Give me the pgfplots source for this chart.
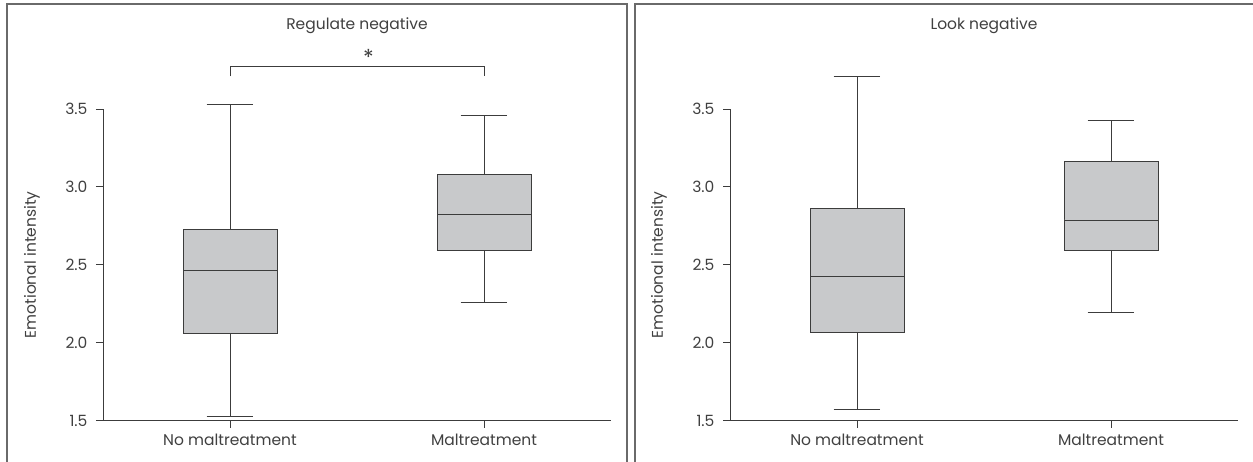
\documentclass[border=0pt]{standalone}
\usepackage{fontspec}
\setmainfont{Poppins}
\usepackage{pgfplots}
\pgfplotsset{compat=1.18}
\usepgfplotslibrary{statistics}

\definecolor{boxfill}{HTML}{C8C9CB}
\definecolor{ink}{HTML}{3C3C3C}
\definecolor{txt}{HTML}{404040}
\definecolor{frame}{HTML}{6A6A6A}

\newcommand{\lab}{\fontsize{15.5}{18}\selectfont\color{txt}}

\pgfplotsset{
  panel/.style={
    width=508pt, height=311.7pt, scale only axis,
    xmin=0.5, xmax=2.5, ymin=1.5, ymax=3.5,
    clip=false,
    axis x line*=bottom, axis y line*=left,
    axis line style={ink, line width=0.9pt},
    tick align=outside, major tick length=7pt,
    tick style={ink, line width=0.9pt},
    xtick={1,2}, xticklabels={No maltreatment, Maltreatment},
    ytick={1.5,2,2.5,3,3.5}, yticklabels={1.5,2.0,2.5,3.0,3.5},
    tick label style={font=\lab},
    yticklabel style={xshift=-5pt},
    xticklabel style={yshift=-3pt},
    ylabel={Emotional intensity},
    ylabel style={font=\lab, at={(axis description cs:0,0.5)}, anchor=center, yshift=71pt},
    title style={font=\lab, at={(axis description cs:0.5,1)}, anchor=center, yshift=77pt},
    boxplot/draw direction=y,
    boxplot/box extend=0.37,
    boxplot/whisker extend=0.184,
  },
  bx/.style={draw=ink, line width=0.9pt, fill=boxfill, solid, mark=none},
}

\begin{document}
\begin{tikzpicture}[x=1pt, y=1pt]
\useasboundingbox (0,0) rectangle (1253,461);
\clip (0,0) rectangle (1253,461);

% panel frames
\draw[frame, line width=1.2pt] (7,-10) -- (7,457) -- (627,457) -- (627,-10);
\draw[frame, line width=1.2pt] (635,-10) -- (635,457) -- (1265,457);

\begin{axis}[panel, at={(103pt,40.3pt)}, anchor=south west, title={Regulate negative}]
  \addplot[bx, boxplot prepared={draw position=1,
    lower whisker=1.527, lower quartile=2.062, median=2.462,
    upper quartile=2.727, upper whisker=3.530}] coordinates {};
  \addplot[bx, boxplot prepared={draw position=2,
    lower whisker=2.259, lower quartile=2.593, median=2.826,
    upper quartile=3.078, upper whisker=3.459}] coordinates {};
  % significance bracket
  \draw[ink, line width=0.9pt] (axis cs:1,3.709) -- (axis cs:1,3.773)
    -- (axis cs:2,3.773) -- (axis cs:2,3.709);
  \node[font=\fontsize{22}{24}\selectfont\color{txt}] at (axis cs:1.545,3.832) {*};
\end{axis}

\begin{axis}[panel, at={(730pt,40.3pt)}, anchor=south west, title={Look negative}]
  \addplot[bx, boxplot prepared={draw position=1,
    lower whisker=1.572, lower quartile=2.066, median=2.428,
    upper quartile=2.862, upper whisker=3.709}] coordinates {};
  \addplot[bx, boxplot prepared={draw position=2,
    lower whisker=2.195, lower quartile=2.593, median=2.788,
    upper quartile=3.166, upper whisker=3.429}] coordinates {};
\end{axis}
\end{tikzpicture}
\end{document}
